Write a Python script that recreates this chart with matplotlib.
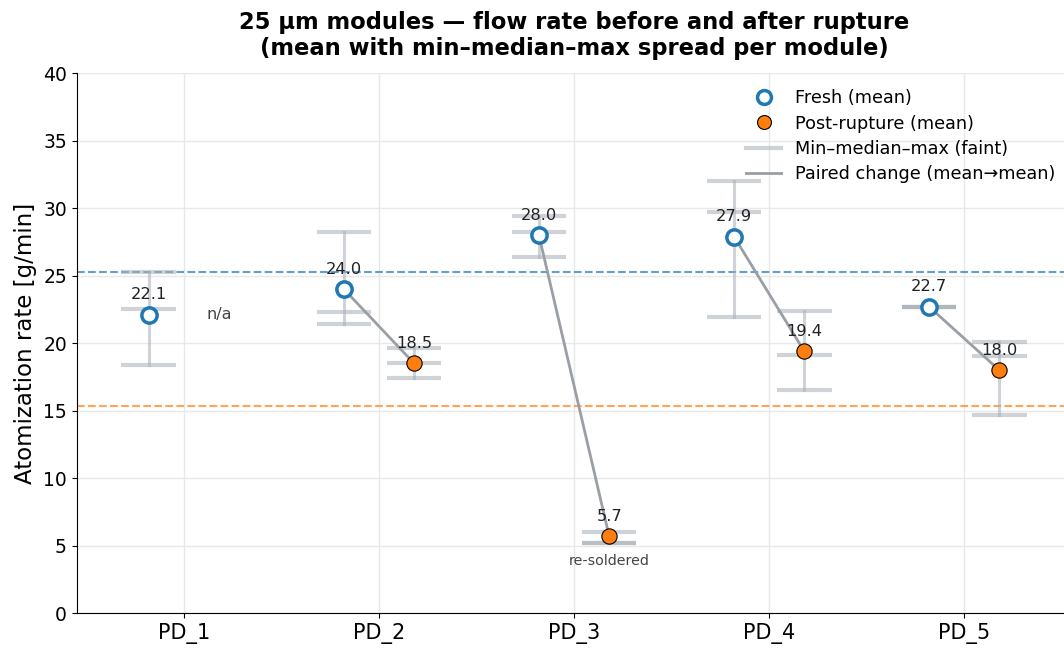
import matplotlib.pyplot as plt
import numpy as np
from matplotlib.lines import Line2D

plt.rcParams['font.family'] = ['DejaVu Sans']

modules = ['PD_1', 'PD_2', 'PD_3', 'PD_4', 'PD_5']

fresh_mean = [22.1, 24.0, 28.0, 27.9, 22.7]
fresh_min = [18.35, 21.4, 26.4, 21.9, 22.7]
fresh_median = [22.55, 22.3, 28.2, 29.7, 22.7]
fresh_max = [25.3, 28.25, 29.4, 32.0, 22.7]

# PD_1 has no post-rupture measurement
post_mean = [None, 18.5, 5.7, 19.4, 18.0]
post_min = [None, 17.4, 5.2, 16.5, 14.7]
post_median = [None, 18.55, 5.2, 19.1, 19.05]
post_max = [None, 19.65, 6.0, 22.4, 20.1]

fresh_ref = 25.3
post_ref = 15.35

FRESH_C = '#1f77b4'
POST_C = '#ff7f0e'
SPREAD_C = '#a9b0b7'
PAIR_C = '#9a9fa6'

fig = plt.figure(figsize=(10.64, 6.48), dpi=100)
ax = fig.add_axes([0.072, 0.054, 0.935, 0.833])

x = np.arange(len(modules))
off = 0.18
cap = 0.14


def spread(ax, xc, lo, med, hi):
    ax.plot([xc, xc], [lo, hi], color=SPREAD_C, lw=2.2, alpha=0.55, zorder=2)
    for v in (lo, med, hi):
        ax.plot([xc - cap, xc + cap], [v, v], color=SPREAD_C, lw=3, alpha=0.55,
                solid_capstyle='butt', zorder=2)


ax.axhline(fresh_ref, color=FRESH_C, ls='--', lw=1.5, alpha=0.7, zorder=1)
ax.axhline(post_ref, color=POST_C, ls='--', lw=1.5, alpha=0.7, zorder=1)

for i in range(len(modules)):
    xf = x[i] - off
    xp = x[i] + off
    spread(ax, xf, fresh_min[i], fresh_median[i], fresh_max[i])
    if post_mean[i] is None:
        ax.text(xp, fresh_mean[i], 'n/a', ha='center', va='center', fontsize=11.5, color='#444444')
    else:
        spread(ax, xp, post_min[i], post_median[i], post_max[i])
        ax.plot([xf, xp], [fresh_mean[i], post_mean[i]], color=PAIR_C, lw=2, zorder=3)
        ax.plot(xp, post_mean[i], 'o', ms=11, mfc=POST_C, mec='black', mew=0.8, zorder=5)
        ax.annotate(f'{post_mean[i]:.1f}', (xp, post_mean[i]), xytext=(0, 9),
                    textcoords='offset points', ha='center', va='bottom', fontsize=11.7, color='#222222')
    ax.plot(xf, fresh_mean[i], 'o', ms=11, mfc='white', mec=FRESH_C, mew=2.5, zorder=5)
    ax.annotate(f'{fresh_mean[i]:.1f}', (xf, fresh_mean[i]), xytext=(0, 9),
                textcoords='offset points', ha='center', va='bottom', fontsize=11.7, color='#222222')

ax.annotate('re-soldered', (x[2] + off, post_mean[2]), xytext=(0, -13),
            textcoords='offset points', ha='center', va='top', fontsize=10.3, color='#444444')

ax.set_xticks(x)
ax.set_xticklabels(modules, fontsize=15)
ax.set_xlim(-0.55, 4.55)
ax.set_ylim(0, 40)
ax.set_yticks(np.arange(0, 41, 5))
ax.tick_params(axis='y', labelsize=13.5)
ax.set_ylabel('Atomization rate [g/min]', fontsize=16.5)
ax.grid(True, color='#e8e8e8', lw=1)
ax.set_axisbelow(True)
ax.spines['top'].set_visible(False)
ax.spines['right'].set_visible(False)

ax.set_title('25 µm modules — flow rate before and after rupture\n'
             '(mean with min–median–max spread per module)',
             fontsize=16.3, fontweight='bold', pad=13)

handles = [
    Line2D([], [], ls='none', marker='o', ms=10, mfc='white', mec=FRESH_C, mew=2.5,
           label='Fresh (mean)'),
    Line2D([], [], ls='none', marker='o', ms=10, mfc=POST_C, mec='black', mew=0.8,
           label='Post-rupture (mean)'),
    Line2D([], [], color=SPREAD_C, lw=3, alpha=0.55, label='Min–median–max (faint)'),
    Line2D([], [], color=PAIR_C, lw=2, label='Paired change (mean→mean)'),
]
ax.legend(handles=handles, loc='upper right', frameon=False, fontsize=12.7,
          handlelength=2.0, labelspacing=0.42, borderaxespad=0.5,
          bbox_to_anchor=(1.0, 1.0))

fig.savefig('out.png', dpi=100)
